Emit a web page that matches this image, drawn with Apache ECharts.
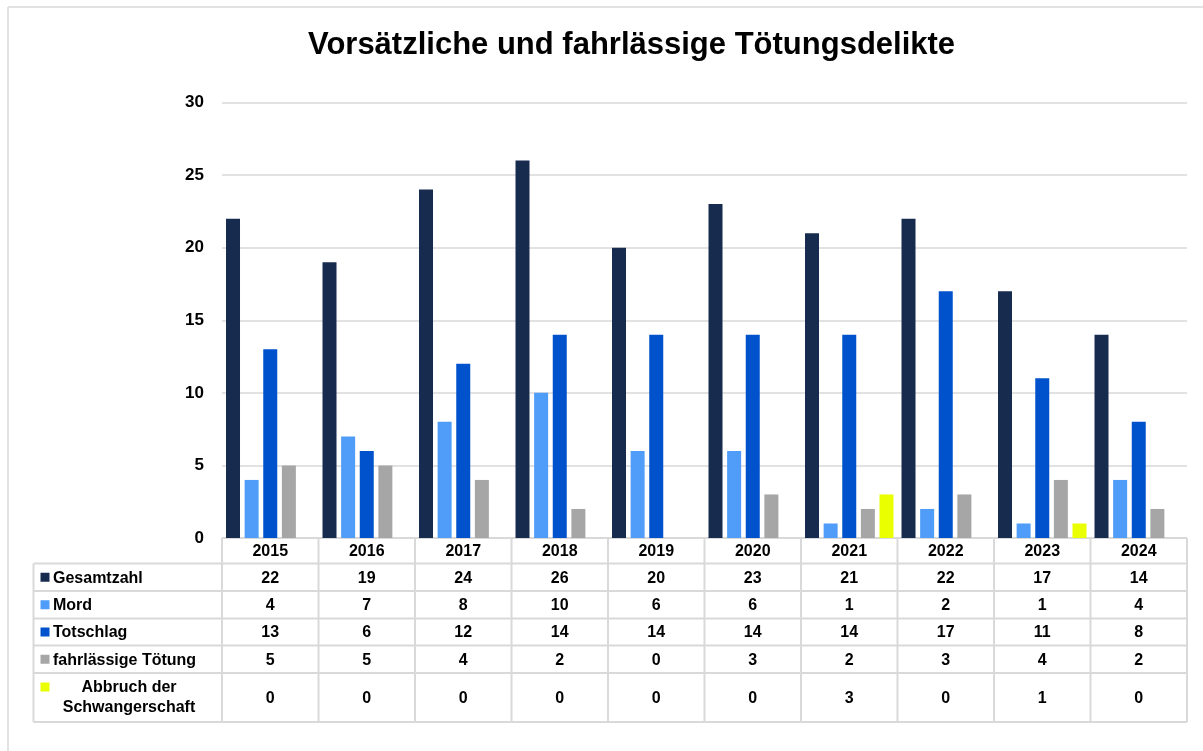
<!DOCTYPE html>
<html>
<head>
<meta charset="utf-8">
<script src="https://cdn.jsdelivr.net/npm/echarts@6/dist/echarts.min.js"></script>
<style>
html,body{margin:0;padding:0;background:#fff;}
#c{width:1203px;height:751px;}
</style>
</head>
<body>
<div id="c"></div>
<script>
const years = ['2015','2016','2017','2018','2019','2020','2021','2022','2023','2024'];
const gesamtzahl = [22,19,24,26,20,23,21,22,17,14];
const mord = [4,7,8,10,6,6,1,2,1,4];
const totschlag = [13,6,12,14,14,14,14,17,11,8];
const fahrlaessig = [5,5,4,2,0,3,2,3,4,2];
const abbruch = [0,0,0,0,0,0,3,0,1,0];
const seriesNames = ['Gesamtzahl','Mord','Totschlag','fahrlässige Tötung','Abbruch der Schwangerschaft'];
const yTicks = [0,5,10,15,20,25,30];

const colors = ['#172b4f','#4f9cf9','#0052cc','#a6a6a6','#eaff00'];
const seriesData = [gesamtzahl, mord, totschlag, fahrlaessig, abbruch];
const FONT = '"Liberation Sans", Arial, sans-serif';

const chart = echarts.init(document.getElementById('c'), null, {renderer:'canvas'});
const option = {
  animation:false,
  backgroundColor:'#fff',
  title:{
    text:'Vorsätzliche und fahrlässige Tötungsdelikte',
    left:303, top:25,
    textStyle:{fontFamily:FONT, fontWeight:'bold', fontSize:31, color:'#000'}
  },
  grid:{left:222, right:16, top:102.5, bottom:213, containLabel:false},
  xAxis:{
    type:'category', data:years,
    axisLine:{show:false}, axisTick:{show:false},
    axisLabel:{fontFamily:FONT, fontWeight:'bold', fontSize:16, color:'#000', margin:6}
  },
  yAxis:{
    type:'value', min:yTicks[0], max:yTicks[yTicks.length-1], interval:5,
    axisLine:{show:false}, axisTick:{show:false},
    axisLabel:{fontFamily:FONT, fontWeight:'bold', fontSize:17, color:'#000', margin:18},
    splitLine:{lineStyle:{color:'#d9d9d9', width:1.5}}
  },
  series: seriesNames.map((n,i)=>({
    name:n, type:'bar', data:seriesData[i], barWidth:14, barGap:'33%',
    itemStyle:{color:colors[i]}
  }))
};
chart.setOption(option);

// Data table below the plot
const x0 = chart.convertToPixel({xAxisIndex:0}, 0);
const x1 = chart.convertToPixel({xAxisIndex:0}, 1);
const colW = x1 - x0;
const tableLeft = x0 - colW/2;
const tableRight = tableLeft + colW*years.length;
const labelLeft = 33.5;
const rowY = [538, 563.5, 591, 618.5, 645.5, 673, 722];
const lineStyle = {stroke:'#d9d9d9', lineWidth:2};
const g = [];
// outer frame of the chart
g.push({type:'line', shape:{x1:8,y1:7,x2:1203,y2:7}, style:{stroke:'#d9d9d9', lineWidth:1.5}, silent:true});
g.push({type:'line', shape:{x1:8,y1:7,x2:8,y2:751}, style:{stroke:'#d9d9d9', lineWidth:1.5}, silent:true});
// horizontal lines
g.push({type:'line', shape:{x1:tableLeft,y1:rowY[0],x2:tableRight,y2:rowY[0]}, style:lineStyle});
for (let r=1;r<rowY.length;r++){
  g.push({type:'line', shape:{x1:labelLeft,y1:rowY[r],x2:tableRight,y2:rowY[r]}, style:lineStyle});
}
// vertical lines
g.push({type:'line', shape:{x1:labelLeft,y1:rowY[1],x2:labelLeft,y2:rowY[6]}, style:lineStyle});
for (let c=0;c<=years.length;c++){
  const x = tableLeft + c*colW;
  g.push({type:'line', shape:{x1:x,y1:rowY[0],x2:x,y2:rowY[6]}, style:lineStyle});
}
// row labels + keys + values
seriesNames.forEach((n,r)=>{
  const yc = (rowY[r+1]+rowY[r+2])/2;
  const isLast = r === seriesNames.length-1;
  const keyY = isLast ? 682.5 : yc-4.5;
  g.push({type:'rect', shape:{x:40.5,y:keyY,width:9,height:9}, style:{fill:colors[r]}});
  if (isLast){
    g.push({type:'text', style:{text:n.replace(' Schwangerschaft','\nSchwangerschaft'), x:129, y:yc, align:'center', verticalAlign:'middle',
      font:'bold 16px '+FONT, fill:'#000', lineHeight:20}});
  } else {
    g.push({type:'text', style:{text:n, x:53, y:yc+1, align:'left', verticalAlign:'middle',
      font:'bold 16px '+FONT, fill:'#000'}});
  }
  seriesData[r].forEach((v,c)=>{
    const xc = chart.convertToPixel({xAxisIndex:0}, c);
    g.push({type:'text', style:{text:String(v), x:xc, y:yc+1, align:'center', verticalAlign:'middle',
      font:'bold 16px '+FONT, fill:'#000'}});
  });
});
chart.setOption({graphic:{elements:g}});
</script>
</body>
</html>
